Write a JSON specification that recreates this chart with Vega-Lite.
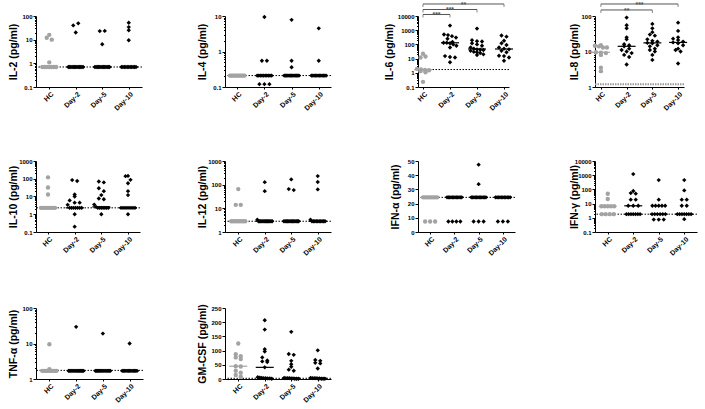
{
"$schema": "https://vega.github.io/schema/vega-lite/v6.json",
"background": "white",
"padding": {"left": 7, "top": 0, "right": 1, "bottom": 2},
"columns": 4,
"align": "each",
"spacing": {"row": 46, "column": 52},
"config": {
  "view": {"stroke": null},
  "font": "Liberation Sans",
  "axis": {"grid": false, "domainColor": "#000000", "tickColor": "#000000", "labelColor": "#000000", "titleColor": "#000000", "labelFontWeight": "bold", "titleFontWeight": "bold", "domainWidth": 1, "tickWidth": 1, "labelFlush": false, "labelOverlap": false},
  "axisY": {"labelFontSize": 6, "titleFontSize": 10.5, "titlePadding": 2, "labelPadding": 1, "tickSize": 3},
  "axisX": {"labelFontSize": 7, "labelAngle": -45, "labelAlign": "right", "labelBaseline": "top", "tickSize": 2, "labelPadding": 1},
  "tick": {"thickness": 1.2},
  "point": {"filled": true, "opacity": 1, "strokeWidth": 0}
},
"concat": [
{
 "width": 106, "height": 71,
 "data": {"values": [
  {"g":"HC","v":12},{"g":"HC","v":10},{"g":"HC","v":16},{"g":"HC","v":1.1},{"g":"HC","v":0.7},{"g":"HC","v":0.7},{"g":"HC","v":0.7},{"g":"HC","v":0.7},{"g":"HC","v":0.7},{"g":"HC","v":0.7},{"g":"HC","v":0.7},
  {"g":"Day-2","v":40},{"g":"Day-2","v":49},{"g":"Day-2","v":20},{"g":"Day-2","v":0.7},{"g":"Day-2","v":0.7},{"g":"Day-2","v":0.7},{"g":"Day-2","v":0.7},{"g":"Day-2","v":0.7},{"g":"Day-2","v":0.7},{"g":"Day-2","v":0.7},{"g":"Day-2","v":0.7},{"g":"Day-2","v":0.7},{"g":"Day-2","v":0.7},{"g":"Day-2","v":0.7},{"g":"Day-2","v":0.7},{"g":"Day-2","v":0.7},
  {"g":"Day-5","v":23},{"g":"Day-5","v":23.5},{"g":"Day-5","v":6.4},{"g":"Day-5","v":0.7},{"g":"Day-5","v":0.7},{"g":"Day-5","v":0.7},{"g":"Day-5","v":0.7},{"g":"Day-5","v":0.7},{"g":"Day-5","v":0.7},{"g":"Day-5","v":0.7},{"g":"Day-5","v":0.7},{"g":"Day-5","v":0.7},{"g":"Day-5","v":0.7},{"g":"Day-5","v":0.7},{"g":"Day-5","v":0.7},{"g":"Day-5","v":0.7},
  {"g":"Day-10","v":52},{"g":"Day-10","v":34},{"g":"Day-10","v":25},{"g":"Day-10","v":9.4},{"g":"Day-10","v":0.7},{"g":"Day-10","v":0.7},{"g":"Day-10","v":0.7},{"g":"Day-10","v":0.7},{"g":"Day-10","v":0.7},{"g":"Day-10","v":0.7},{"g":"Day-10","v":0.7},{"g":"Day-10","v":0.7},{"g":"Day-10","v":0.7},{"g":"Day-10","v":0.7},{"g":"Day-10","v":0.7}
 ]},
 "transform": [
  {"calculate": "round(log(datum.v)/LN10*6)", "as": "bk"},
  {"window": [{"op": "row_number", "as": "rn"}, {"op": "count", "as": "cnt"}], "groupby": ["g", "bk"], "frame": [null, null]},
  {"calculate": "(datum.rn-(datum.cnt+1)/2)*min(5,16/datum.cnt)", "as": "off"}
 ],
 "encoding": {"y": {"field": "v", "type": "quantitative", "title": "IL-2 (pg/ml)", "scale": {"type": "log", "domain": [0.1, 100]},
   "axis": {"minExtent": 16, "maxExtent": 16, "values": [0.1,0.2,0.3,0.4,0.5,0.6,0.7,0.8,0.9,1,2,3,4,5,6,7,8,9,10,20,30,40,50,60,70,80,90,100],
     "labelExpr": "abs(log(datum.value)/LN10-round(log(datum.value)/LN10))<1e-6 ? format(datum.value,'~g') : ''",
     "tickSize": {"condition": {"test": "abs(log(datum.value)/LN10-round(log(datum.value)/LN10))<1e-6", "value": 3}, "value": 1.5}}}},
 "layer": [
  {"data": {"values": [{"v": 0.7}]}, "mark": {"type": "rule", "strokeDash": [1.5, 1.5], "color": "#000000", "strokeWidth": 1}, "encoding": {}},
  {"mark": {"type": "point"},
   "encoding": {
    "x": {"field": "g", "type": "nominal", "title": null, "scale": {"type": "point", "domain": ["HC","m1","Day-2","m2","Day-5","m3","Day-10"], "padding": 1}, "axis": {"values": ["HC","Day-2","Day-5","Day-10"]}},
    "xOffset": {"field": "off", "type": "quantitative", "scale": {"domain": [-10, 10], "range": [-10, 10]}},
    "color": {"field": "g", "type": "nominal", "scale": {"domain": ["HC","Day-2","Day-5","Day-10"], "range": ["#a3a3a3","#000000","#000000","#000000"]}, "legend": null},
    "shape": {"field": "g", "type": "nominal", "scale": {"domain": ["HC","Day-2","Day-5","Day-10"], "range": ["circle","diamond","diamond","diamond"]}, "legend": null},
    "size": {"value": 19}}},
  {"mark": {"type": "tick", "size": 18},
   "encoding": {
    "x": {"field": "g", "type": "nominal", "title": null},
    "y": {"aggregate": "median", "field": "v", "type": "quantitative", "title": "IL-2 (pg/ml)"},
    "color": {"field": "g", "type": "nominal", "legend": null}}}
 ]
},
{
 "width": 106, "height": 71,
 "data": {"values": [
  {"g":"HC","v":0.21},{"g":"HC","v":0.21},{"g":"HC","v":0.21},{"g":"HC","v":0.21},{"g":"HC","v":0.21},{"g":"HC","v":0.21},{"g":"HC","v":0.21},{"g":"HC","v":0.21},{"g":"HC","v":0.21},{"g":"HC","v":0.21},{"g":"HC","v":0.21},
  {"g":"Day-2","v":9.4},{"g":"Day-2","v":0.55},{"g":"Day-2","v":0.55},{"g":"Day-2","v":0.12},{"g":"Day-2","v":0.12},{"g":"Day-2","v":0.12},{"g":"Day-2","v":0.21},{"g":"Day-2","v":0.21},{"g":"Day-2","v":0.21},{"g":"Day-2","v":0.21},{"g":"Day-2","v":0.21},{"g":"Day-2","v":0.21},{"g":"Day-2","v":0.21},{"g":"Day-2","v":0.21},{"g":"Day-2","v":0.21},{"g":"Day-2","v":0.21},
  {"g":"Day-5","v":7.8},{"g":"Day-5","v":0.55},{"g":"Day-5","v":0.36},{"g":"Day-5","v":0.21},{"g":"Day-5","v":0.21},{"g":"Day-5","v":0.21},{"g":"Day-5","v":0.21},{"g":"Day-5","v":0.21},{"g":"Day-5","v":0.21},{"g":"Day-5","v":0.21},{"g":"Day-5","v":0.21},{"g":"Day-5","v":0.21},{"g":"Day-5","v":0.21},{"g":"Day-5","v":0.21},{"g":"Day-5","v":0.21},{"g":"Day-5","v":0.21},
  {"g":"Day-10","v":4.5},{"g":"Day-10","v":0.55},{"g":"Day-10","v":0.21},{"g":"Day-10","v":0.21},{"g":"Day-10","v":0.21},{"g":"Day-10","v":0.21},{"g":"Day-10","v":0.21},{"g":"Day-10","v":0.21},{"g":"Day-10","v":0.21},{"g":"Day-10","v":0.21},{"g":"Day-10","v":0.21},{"g":"Day-10","v":0.21},{"g":"Day-10","v":0.21},{"g":"Day-10","v":0.21}
 ]},
 "transform": [
  {"calculate": "round(log(datum.v)/LN10*9)", "as": "bk"},
  {"window": [{"op": "row_number", "as": "rn"}, {"op": "count", "as": "cnt"}], "groupby": ["g", "bk"], "frame": [null, null]},
  {"calculate": "(datum.rn-(datum.cnt+1)/2)*min(5,16/datum.cnt)", "as": "off"}
 ],
 "encoding": {"y": {"field": "v", "type": "quantitative", "title": "IL-4 (pg/ml)", "scale": {"type": "log", "domain": [0.1, 10]},
   "axis": {"minExtent": 16, "maxExtent": 16, "values": [0.1,0.2,0.3,0.4,0.5,0.6,0.7,0.8,0.9,1,2,3,4,5,6,7,8,9,10],
     "labelExpr": "abs(log(datum.value)/LN10-round(log(datum.value)/LN10))<1e-6 ? format(datum.value,'~g') : ''",
     "tickSize": {"condition": {"test": "abs(log(datum.value)/LN10-round(log(datum.value)/LN10))<1e-6", "value": 3}, "value": 1.5}}}},
 "layer": [
  {"data": {"values": [{"v": 0.21}]}, "mark": {"type": "rule", "strokeDash": [1.5, 1.5], "color": "#000000", "strokeWidth": 1}, "encoding": {}},
  {"mark": {"type": "point"},
   "encoding": {
    "x": {"field": "g", "type": "nominal", "title": null, "scale": {"type": "point", "domain": ["HC","m1","Day-2","m2","Day-5","m3","Day-10"], "padding": 0.9}, "axis": {"values": ["HC","Day-2","Day-5","Day-10"]}},
    "xOffset": {"field": "off", "type": "quantitative", "scale": {"domain": [-10, 10], "range": [-10, 10]}},
    "color": {"field": "g", "type": "nominal", "scale": {"domain": ["HC","Day-2","Day-5","Day-10"], "range": ["#a3a3a3","#000000","#000000","#000000"]}, "legend": null},
    "shape": {"field": "g", "type": "nominal", "scale": {"domain": ["HC","Day-2","Day-5","Day-10"], "range": ["circle","diamond","diamond","diamond"]}, "legend": null},
    "size": {"value": 19}}},
  {"mark": {"type": "tick", "size": 18},
   "encoding": {
    "x": {"field": "g", "type": "nominal", "title": null},
    "y": {"aggregate": "median", "field": "v", "type": "quantitative", "title": "IL-4 (pg/ml)"},
    "color": {"field": "g", "type": "nominal", "legend": null}}}
 ]
},
{
 "width": 91, "height": 71,
 "data": {"values": [
  {"g":"HC","v":22},{"g":"HC","v":12},{"g":"HC","v":14},{"g":"HC","v":1.9},{"g":"HC","v":1.7},{"g":"HC","v":1.6},{"g":"HC","v":1.5},{"g":"HC","v":1.3},{"g":"HC","v":1.1},{"g":"HC","v":0.23},
  {"g":"Day-2","v":2100},{"g":"Day-2","v":500},{"g":"Day-2","v":450},{"g":"Day-2","v":380},{"g":"Day-2","v":300},{"g":"Day-2","v":250},{"g":"Day-2","v":150},{"g":"Day-2","v":130},{"g":"Day-2","v":130},{"g":"Day-2","v":120},{"g":"Day-2","v":100},{"g":"Day-2","v":80},{"g":"Day-2","v":60},{"g":"Day-2","v":15},{"g":"Day-2","v":13},{"g":"Day-2","v":12},{"g":"Day-2","v":5.5},
  {"g":"Day-5","v":1300},{"g":"Day-5","v":200},{"g":"Day-5","v":170},{"g":"Day-5","v":160},{"g":"Day-5","v":120},{"g":"Day-5","v":100},{"g":"Day-5","v":80},{"g":"Day-5","v":60},{"g":"Day-5","v":50},{"g":"Day-5","v":45},{"g":"Day-5","v":42},{"g":"Day-5","v":40},{"g":"Day-5","v":35},{"g":"Day-5","v":30},{"g":"Day-5","v":28},{"g":"Day-5","v":25},{"g":"Day-5","v":20},{"g":"Day-5","v":18},
  {"g":"Day-10","v":420},{"g":"Day-10","v":350},{"g":"Day-10","v":180},{"g":"Day-10","v":120},{"g":"Day-10","v":90},{"g":"Day-10","v":60},{"g":"Day-10","v":50},{"g":"Day-10","v":45},{"g":"Day-10","v":35},{"g":"Day-10","v":28},{"g":"Day-10","v":16},{"g":"Day-10","v":15},{"g":"Day-10","v":12},{"g":"Day-10","v":7}
 ]},
 "transform": [
  {"calculate": "round(log(datum.v)/LN10*3.5)", "as": "bk"},
  {"window": [{"op": "row_number", "as": "rn"}, {"op": "count", "as": "cnt"}], "groupby": ["g", "bk"], "frame": [null, null]},
  {"calculate": "(datum.rn-(datum.cnt+1)/2)*min(5,16/datum.cnt)", "as": "off"}
 ],
 "encoding": {"y": {"field": "v", "type": "quantitative", "title": "IL-6 (pg/ml)", "scale": {"type": "log", "domain": [0.1, 10000]},
   "axis": {"minExtent": 22, "maxExtent": 22, "values": [0.1,0.2,0.3,0.4,0.5,0.6,0.7,0.8,0.9,1,2,3,4,5,6,7,8,9,10,20,30,40,50,60,70,80,90,100,200,300,400,500,600,700,800,900,1000,2000,3000,4000,5000,6000,7000,8000,9000,10000],
     "labelExpr": "abs(log(datum.value)/LN10-round(log(datum.value)/LN10))<1e-6 ? format(datum.value,'~g') : ''",
     "tickSize": {"condition": {"test": "abs(log(datum.value)/LN10-round(log(datum.value)/LN10))<1e-6", "value": 3}, "value": 1.5}}}},
 "layer": [
  {"data": {"values": [{"v": 1.7}]}, "mark": {"type": "rule", "strokeDash": [1.5, 1.5], "color": "#000000", "strokeWidth": 1}, "encoding": {}},
  {"mark": {"type": "point"},
   "encoding": {
    "x": {"field": "g", "type": "nominal", "title": null, "scale": {"type": "point", "domain": ["HC","m1","Day-2","m2","Day-5","m3","Day-10"], "padding": 0.37}, "axis": {"values": ["HC","Day-2","Day-5","Day-10"]}},
    "xOffset": {"field": "off", "type": "quantitative", "scale": {"domain": [-10, 10], "range": [-10, 10]}},
    "color": {"field": "g", "type": "nominal", "scale": {"domain": ["HC","Day-2","Day-5","Day-10"], "range": ["#a3a3a3","#000000","#000000","#000000"]}, "legend": null},
    "shape": {"field": "g", "type": "nominal", "scale": {"domain": ["HC","Day-2","Day-5","Day-10"], "range": ["circle","diamond","diamond","diamond"]}, "legend": null},
    "size": {"value": 19}}},
  {"mark": {"type": "tick", "size": 18},
   "encoding": {
    "x": {"field": "g", "type": "nominal", "title": null},
    "y": {"aggregate": "median", "field": "v", "type": "quantitative", "title": "IL-6 (pg/ml)"},
    "color": {"field": "g", "type": "nominal", "legend": null}}},
  {"data": {"values": [{"from":"HC","to":"Day-2","mid":"m1","v":12800,"t":"***"},{"from":"HC","to":"Day-5","mid":"Day-2","v":28700,"t":"***"},{"from":"HC","to":"Day-10","mid":"m2","v":70000,"t":"**"}]},
   "mark": {"type": "rule", "color": "#555555", "strokeWidth": 1, "clip": false},
   "encoding": {"x": {"field": "from", "type": "nominal", "title": null}, "x2": {"field": "to"}}},
  {"data": {"values": [{"from":"HC","to":"Day-2","mid":"m1","v":12800,"t":"***"},{"from":"HC","to":"Day-5","mid":"Day-2","v":28700,"t":"***"},{"from":"HC","to":"Day-10","mid":"m2","v":70000,"t":"**"}]},
   "mark": {"type": "tick", "orient": "vertical", "size": 3, "thickness": 1, "color": "#555555", "yOffset": 1.5, "clip": false},
   "encoding": {"x": {"field": "from", "type": "nominal", "title": null}}},
  {"data": {"values": [{"from":"HC","to":"Day-2","mid":"m1","v":12800,"t":"***"},{"from":"HC","to":"Day-5","mid":"Day-2","v":28700,"t":"***"},{"from":"HC","to":"Day-10","mid":"m2","v":70000,"t":"**"}]},
   "mark": {"type": "tick", "orient": "vertical", "size": 3, "thickness": 1, "color": "#555555", "yOffset": 1.5, "clip": false},
   "encoding": {"x": {"field": "to", "type": "nominal", "title": null}}},
  {"data": {"values": [{"from":"HC","to":"Day-2","mid":"m1","v":12800,"t":"***"},{"from":"HC","to":"Day-5","mid":"Day-2","v":28700,"t":"***"},{"from":"HC","to":"Day-10","mid":"m2","v":70000,"t":"**"}]},
   "mark": {"type": "text", "fontSize": 7, "fontWeight": "bold", "color": "#555555", "baseline": "alphabetic", "dy": 3, "clip": false},
   "encoding": {"x": {"field": "mid", "type": "nominal", "title": null}, "text": {"field": "t"}}}
 ]
},
{
 "width": 89, "height": 71,
 "data": {"values": [
  {"g":"HC","v":15},{"g":"HC","v":14.5},{"g":"HC","v":14},{"g":"HC","v":13},{"g":"HC","v":13},{"g":"HC","v":9.5},{"g":"HC","v":9.3},{"g":"HC","v":9},{"g":"HC","v":8},{"g":"HC","v":3.5},{"g":"HC","v":2.8},
  {"g":"Day-2","v":90},{"g":"Day-2","v":55},{"g":"Day-2","v":45},{"g":"Day-2","v":25},{"g":"Day-2","v":22},{"g":"Day-2","v":16},{"g":"Day-2","v":15},{"g":"Day-2","v":14},{"g":"Day-2","v":12},{"g":"Day-2","v":11},{"g":"Day-2","v":10},{"g":"Day-2","v":9},{"g":"Day-2","v":8},{"g":"Day-2","v":7},{"g":"Day-2","v":4.3},
  {"g":"Day-5","v":60},{"g":"Day-5","v":45},{"g":"Day-5","v":35},{"g":"Day-5","v":30},{"g":"Day-5","v":28},{"g":"Day-5","v":22},{"g":"Day-5","v":20},{"g":"Day-5","v":19},{"g":"Day-5","v":17.5},{"g":"Day-5","v":17},{"g":"Day-5","v":15},{"g":"Day-5","v":14},{"g":"Day-5","v":12},{"g":"Day-5","v":11},{"g":"Day-5","v":10},{"g":"Day-5","v":8},{"g":"Day-5","v":5.8},
  {"g":"Day-10","v":65},{"g":"Day-10","v":38},{"g":"Day-10","v":25},{"g":"Day-10","v":23},{"g":"Day-10","v":21},{"g":"Day-10","v":19},{"g":"Day-10","v":18},{"g":"Day-10","v":17},{"g":"Day-10","v":15},{"g":"Day-10","v":12},{"g":"Day-10","v":11},{"g":"Day-10","v":10},{"g":"Day-10","v":4.6}
 ]},
 "transform": [
  {"calculate": "round(log(datum.v)/LN10*9)", "as": "bk"},
  {"window": [{"op": "row_number", "as": "rn"}, {"op": "count", "as": "cnt"}], "groupby": ["g", "bk"], "frame": [null, null]},
  {"calculate": "(datum.rn-(datum.cnt+1)/2)*min(5,16/datum.cnt)", "as": "off"}
 ],
 "encoding": {"y": {"field": "v", "type": "quantitative", "title": "IL-8 (pg/ml)", "scale": {"type": "log", "domain": [1, 100]},
   "axis": {"minExtent": 14, "maxExtent": 14, "values": [1,2,3,4,5,6,7,8,9,10,20,30,40,50,60,70,80,90,100],
     "labelExpr": "abs(log(datum.value)/LN10-round(log(datum.value)/LN10))<1e-6 ? format(datum.value,'~g') : ''",
     "tickSize": {"condition": {"test": "abs(log(datum.value)/LN10-round(log(datum.value)/LN10))<1e-6", "value": 3}, "value": 1.5}}}},
 "layer": [
  {"data": {"values": [{"v": 1.2}]}, "mark": {"type": "rule", "strokeDash": [1.5, 1], "color": "#9a9a9a", "strokeWidth": 2}, "encoding": {}},
  {"mark": {"type": "point"},
   "encoding": {
    "x": {"field": "g", "type": "nominal", "title": null, "scale": {"type": "point", "domain": ["HC","m1","Day-2","m2","Day-5","m3","Day-10"], "padding": 0.46}, "axis": {"values": ["HC","Day-2","Day-5","Day-10"]}},
    "xOffset": {"field": "off", "type": "quantitative", "scale": {"domain": [-10, 10], "range": [-10, 10]}},
    "color": {"field": "g", "type": "nominal", "scale": {"domain": ["HC","Day-2","Day-5","Day-10"], "range": ["#a3a3a3","#000000","#000000","#000000"]}, "legend": null},
    "shape": {"field": "g", "type": "nominal", "scale": {"domain": ["HC","Day-2","Day-5","Day-10"], "range": ["circle","diamond","diamond","diamond"]}, "legend": null},
    "size": {"value": 19}}},
  {"mark": {"type": "tick", "size": 18},
   "encoding": {
    "x": {"field": "g", "type": "nominal", "title": null},
    "y": {"aggregate": "median", "field": "v", "type": "quantitative", "title": "IL-8 (pg/ml)"},
    "color": {"field": "g", "type": "nominal", "legend": null}}},
  {"data": {"values": [{"from":"HC","to":"Day-5","mid":"Day-2","v":148,"t":"**"},{"from":"HC","to":"Day-10","mid":"m2","v":218,"t":"***"}]},
   "mark": {"type": "rule", "color": "#555555", "strokeWidth": 1, "clip": false},
   "encoding": {"x": {"field": "from", "type": "nominal", "title": null}, "x2": {"field": "to"}}},
  {"data": {"values": [{"from":"HC","to":"Day-5","mid":"Day-2","v":148,"t":"**"},{"from":"HC","to":"Day-10","mid":"m2","v":218,"t":"***"}]},
   "mark": {"type": "tick", "orient": "vertical", "size": 3, "thickness": 1, "color": "#555555", "yOffset": 1.5, "clip": false},
   "encoding": {"x": {"field": "from", "type": "nominal", "title": null}}},
  {"data": {"values": [{"from":"HC","to":"Day-5","mid":"Day-2","v":148,"t":"**"},{"from":"HC","to":"Day-10","mid":"m2","v":218,"t":"***"}]},
   "mark": {"type": "tick", "orient": "vertical", "size": 3, "thickness": 1, "color": "#555555", "yOffset": 1.5, "clip": false},
   "encoding": {"x": {"field": "to", "type": "nominal", "title": null}}},
  {"data": {"values": [{"from":"HC","to":"Day-5","mid":"Day-2","v":148,"t":"**"},{"from":"HC","to":"Day-10","mid":"m2","v":218,"t":"***"}]},
   "mark": {"type": "text", "fontSize": 7, "fontWeight": "bold", "color": "#555555", "baseline": "alphabetic", "dy": 3, "clip": false},
   "encoding": {"x": {"field": "mid", "type": "nominal", "title": null}, "text": {"field": "t"}}}
 ]
},
{
 "width": 104, "height": 71,
 "data": {"values": [
  {"g":"HC","v":120},{"g":"HC","v":32},{"g":"HC","v":13},{"g":"HC","v":2.3},{"g":"HC","v":2.3},{"g":"HC","v":2.3},{"g":"HC","v":2.3},{"g":"HC","v":2.3},{"g":"HC","v":2.3},{"g":"HC","v":2.3},{"g":"HC","v":2.3},
  {"g":"Day-2","v":84},{"g":"Day-2","v":75},{"g":"Day-2","v":13},{"g":"Day-2","v":10},{"g":"Day-2","v":6},{"g":"Day-2","v":4.5},{"g":"Day-2","v":4.5},{"g":"Day-2","v":3.4},{"g":"Day-2","v":2.3},{"g":"Day-2","v":2.3},{"g":"Day-2","v":2.3},{"g":"Day-2","v":2.3},{"g":"Day-2","v":2.3},{"g":"Day-2","v":2.3},{"g":"Day-2","v":2.3},{"g":"Day-2","v":1},{"g":"Day-2","v":0.2},
  {"g":"Day-5","v":70},{"g":"Day-5","v":62},{"g":"Day-5","v":29},{"g":"Day-5","v":20},{"g":"Day-5","v":12},{"g":"Day-5","v":7.7},{"g":"Day-5","v":7},{"g":"Day-5","v":3.5},{"g":"Day-5","v":2.6},{"g":"Day-5","v":2.3},{"g":"Day-5","v":2.3},{"g":"Day-5","v":2.3},{"g":"Day-5","v":2.3},{"g":"Day-5","v":2.3},{"g":"Day-5","v":2.3},{"g":"Day-5","v":2.3},{"g":"Day-5","v":1},
  {"g":"Day-10","v":145},{"g":"Day-10","v":140},{"g":"Day-10","v":87},{"g":"Day-10","v":56},{"g":"Day-10","v":20},{"g":"Day-10","v":12},{"g":"Day-10","v":2.3},{"g":"Day-10","v":2.3},{"g":"Day-10","v":2.3},{"g":"Day-10","v":2.3},{"g":"Day-10","v":2.3},{"g":"Day-10","v":2.3},{"g":"Day-10","v":2.3},{"g":"Day-10","v":2.3},{"g":"Day-10","v":1}
 ]},
 "transform": [
  {"calculate": "round(log(datum.v)/LN10*4.4)", "as": "bk"},
  {"window": [{"op": "row_number", "as": "rn"}, {"op": "count", "as": "cnt"}], "groupby": ["g", "bk"], "frame": [null, null]},
  {"calculate": "(datum.rn-(datum.cnt+1)/2)*min(5,16/datum.cnt)", "as": "off"}
 ],
 "encoding": {"y": {"field": "v", "type": "quantitative", "title": "IL-10 (pg/ml)", "scale": {"type": "log", "domain": [0.1, 1000]},
   "axis": {"minExtent": 16, "maxExtent": 16, "values": [0.1,0.2,0.3,0.4,0.5,0.6,0.7,0.8,0.9,1,2,3,4,5,6,7,8,9,10,20,30,40,50,60,70,80,90,100,200,300,400,500,600,700,800,900,1000],
     "labelExpr": "abs(log(datum.value)/LN10-round(log(datum.value)/LN10))<1e-6 ? format(datum.value,'~g') : ''",
     "tickSize": {"condition": {"test": "abs(log(datum.value)/LN10-round(log(datum.value)/LN10))<1e-6", "value": 3}, "value": 1.5}}}},
 "layer": [
  {"data": {"values": [{"v": 2.3}]}, "mark": {"type": "rule", "strokeDash": [1.5, 1.5], "color": "#000000", "strokeWidth": 1}, "encoding": {}},
  {"mark": {"type": "point"},
   "encoding": {
    "x": {"field": "g", "type": "nominal", "title": null, "scale": {"type": "point", "domain": ["HC","m1","Day-2","m2","Day-5","m3","Day-10"], "padding": 0.9}, "axis": {"values": ["HC","Day-2","Day-5","Day-10"]}},
    "xOffset": {"field": "off", "type": "quantitative", "scale": {"domain": [-10, 10], "range": [-10, 10]}},
    "color": {"field": "g", "type": "nominal", "scale": {"domain": ["HC","Day-2","Day-5","Day-10"], "range": ["#a3a3a3","#000000","#000000","#000000"]}, "legend": null},
    "shape": {"field": "g", "type": "nominal", "scale": {"domain": ["HC","Day-2","Day-5","Day-10"], "range": ["circle","diamond","diamond","diamond"]}, "legend": null},
    "size": {"value": 19}}},
  {"mark": {"type": "tick", "size": 18},
   "encoding": {
    "x": {"field": "g", "type": "nominal", "title": null},
    "y": {"aggregate": "median", "field": "v", "type": "quantitative", "title": "IL-10 (pg/ml)"},
    "color": {"field": "g", "type": "nominal", "legend": null}}}
 ]
},
{
 "width": 106, "height": 71,
 "data": {"values": [
  {"g":"HC","v":65},{"g":"HC","v":14},{"g":"HC","v":14},{"g":"HC","v":2.85},{"g":"HC","v":2.85},{"g":"HC","v":2.85},{"g":"HC","v":2.85},{"g":"HC","v":2.85},{"g":"HC","v":2.85},{"g":"HC","v":2.85},{"g":"HC","v":2.85},
  {"g":"Day-2","v":128},{"g":"Day-2","v":53},{"g":"Day-2","v":3.3},{"g":"Day-2","v":2.85},{"g":"Day-2","v":2.85},{"g":"Day-2","v":2.85},{"g":"Day-2","v":2.85},{"g":"Day-2","v":2.85},{"g":"Day-2","v":2.85},{"g":"Day-2","v":2.85},{"g":"Day-2","v":2.85},{"g":"Day-2","v":2.85},{"g":"Day-2","v":2.85},{"g":"Day-2","v":2.85},{"g":"Day-2","v":2.85},{"g":"Day-2","v":2.85},
  {"g":"Day-5","v":167},{"g":"Day-5","v":65},{"g":"Day-5","v":59},{"g":"Day-5","v":2.85},{"g":"Day-5","v":2.85},{"g":"Day-5","v":2.85},{"g":"Day-5","v":2.85},{"g":"Day-5","v":2.85},{"g":"Day-5","v":2.85},{"g":"Day-5","v":2.85},{"g":"Day-5","v":2.85},{"g":"Day-5","v":2.85},{"g":"Day-5","v":2.85},{"g":"Day-5","v":2.85},{"g":"Day-5","v":2.85},{"g":"Day-5","v":2.85},
  {"g":"Day-10","v":230},{"g":"Day-10","v":130},{"g":"Day-10","v":63},{"g":"Day-10","v":3.3},{"g":"Day-10","v":2.85},{"g":"Day-10","v":2.85},{"g":"Day-10","v":2.85},{"g":"Day-10","v":2.85},{"g":"Day-10","v":2.85},{"g":"Day-10","v":2.85},{"g":"Day-10","v":2.85},{"g":"Day-10","v":2.85},{"g":"Day-10","v":2.85},{"g":"Day-10","v":2.85}
 ]},
 "transform": [
  {"calculate": "round(log(datum.v)/LN10*6)", "as": "bk"},
  {"window": [{"op": "row_number", "as": "rn"}, {"op": "count", "as": "cnt"}], "groupby": ["g", "bk"], "frame": [null, null]},
  {"calculate": "(datum.rn-(datum.cnt+1)/2)*min(5,16/datum.cnt)", "as": "off"}
 ],
 "encoding": {"y": {"field": "v", "type": "quantitative", "title": "IL-12 (pg/ml)", "scale": {"type": "log", "domain": [1, 1000]},
   "axis": {"minExtent": 16, "maxExtent": 16, "values": [1,2,3,4,5,6,7,8,9,10,20,30,40,50,60,70,80,90,100,200,300,400,500,600,700,800,900,1000],
     "labelExpr": "abs(log(datum.value)/LN10-round(log(datum.value)/LN10))<1e-6 ? format(datum.value,'~g') : ''",
     "tickSize": {"condition": {"test": "abs(log(datum.value)/LN10-round(log(datum.value)/LN10))<1e-6", "value": 3}, "value": 1.5}}}},
 "layer": [
  {"data": {"values": [{"v": 2.85}]}, "mark": {"type": "rule", "strokeDash": [1.5, 1.5], "color": "#000000", "strokeWidth": 1}, "encoding": {}},
  {"mark": {"type": "point"},
   "encoding": {
    "x": {"field": "g", "type": "nominal", "title": null, "scale": {"type": "point", "domain": ["HC","m1","Day-2","m2","Day-5","m3","Day-10"], "padding": 1}, "axis": {"values": ["HC","Day-2","Day-5","Day-10"]}},
    "xOffset": {"field": "off", "type": "quantitative", "scale": {"domain": [-10, 10], "range": [-10, 10]}},
    "color": {"field": "g", "type": "nominal", "scale": {"domain": ["HC","Day-2","Day-5","Day-10"], "range": ["#a3a3a3","#000000","#000000","#000000"]}, "legend": null},
    "shape": {"field": "g", "type": "nominal", "scale": {"domain": ["HC","Day-2","Day-5","Day-10"], "range": ["circle","diamond","diamond","diamond"]}, "legend": null},
    "size": {"value": 19}}},
  {"mark": {"type": "tick", "size": 18},
   "encoding": {
    "x": {"field": "g", "type": "nominal", "title": null},
    "y": {"aggregate": "median", "field": "v", "type": "quantitative", "title": "IL-12 (pg/ml)"},
    "color": {"field": "g", "type": "nominal", "legend": null}}}
 ]
},
{
 "width": 97, "height": 71,
 "data": {"values": [
  {"g":"HC","v":24.4},{"g":"HC","v":24.4},{"g":"HC","v":24.4},{"g":"HC","v":24.4},{"g":"HC","v":24.4},{"g":"HC","v":24.4},{"g":"HC","v":24.4},{"g":"HC","v":24.4},{"g":"HC","v":7.4},{"g":"HC","v":7.4},{"g":"HC","v":7.4},
  {"g":"Day-2","v":24.4},{"g":"Day-2","v":24.4},{"g":"Day-2","v":24.4},{"g":"Day-2","v":24.4},{"g":"Day-2","v":24.4},{"g":"Day-2","v":24.4},{"g":"Day-2","v":24.4},{"g":"Day-2","v":24.4},{"g":"Day-2","v":24.4},{"g":"Day-2","v":24.4},{"g":"Day-2","v":24.4},{"g":"Day-2","v":24.4},{"g":"Day-2","v":7.4},{"g":"Day-2","v":7.4},{"g":"Day-2","v":7.4},{"g":"Day-2","v":7.4},
  {"g":"Day-5","v":47.4},{"g":"Day-5","v":33.7},{"g":"Day-5","v":24.4},{"g":"Day-5","v":24.4},{"g":"Day-5","v":24.4},{"g":"Day-5","v":24.4},{"g":"Day-5","v":24.4},{"g":"Day-5","v":24.4},{"g":"Day-5","v":24.4},{"g":"Day-5","v":24.4},{"g":"Day-5","v":24.4},{"g":"Day-5","v":24.4},{"g":"Day-5","v":24.4},{"g":"Day-5","v":24.4},{"g":"Day-5","v":7.4},{"g":"Day-5","v":7.4},{"g":"Day-5","v":7.4},
  {"g":"Day-10","v":24.4},{"g":"Day-10","v":24.4},{"g":"Day-10","v":24.4},{"g":"Day-10","v":24.4},{"g":"Day-10","v":24.4},{"g":"Day-10","v":24.4},{"g":"Day-10","v":24.4},{"g":"Day-10","v":24.4},{"g":"Day-10","v":24.4},{"g":"Day-10","v":24.4},{"g":"Day-10","v":24.4},{"g":"Day-10","v":7.4},{"g":"Day-10","v":7.4},{"g":"Day-10","v":7.4}
 ]},
 "transform": [
  {"calculate": "round(datum.v/3)", "as": "bk"},
  {"window": [{"op": "row_number", "as": "rn"}, {"op": "count", "as": "cnt"}], "groupby": ["g", "bk"], "frame": [null, null]},
  {"calculate": "(datum.rn-(datum.cnt+1)/2)*min(5,16/datum.cnt)", "as": "off"}
 ],
 "encoding": {"y": {"field": "v", "type": "quantitative", "title": "IFN-α (pg/ml)", "scale": {"domain": [0, 50], "nice": false},
   "axis": {"minExtent": 16, "maxExtent": 16, "values": [0, 10, 20, 30, 40, 50]}}},
 "layer": [
  {"data": {"values": [{"v": 24.4}]}, "mark": {"type": "rule", "strokeDash": [1.5, 1.5], "color": "#000000", "strokeWidth": 1}, "encoding": {}},
  {"mark": {"type": "point"},
   "encoding": {
    "x": {"field": "g", "type": "nominal", "title": null, "scale": {"type": "point", "domain": ["HC","m1","Day-2","m2","Day-5","m3","Day-10"], "padding": 1}, "axis": {"values": ["HC","Day-2","Day-5","Day-10"]}},
    "xOffset": {"field": "off", "type": "quantitative", "scale": {"domain": [-10, 10], "range": [-10, 10]}},
    "color": {"field": "g", "type": "nominal", "scale": {"domain": ["HC","Day-2","Day-5","Day-10"], "range": ["#a3a3a3","#000000","#000000","#000000"]}, "legend": null},
    "shape": {"field": "g", "type": "nominal", "scale": {"domain": ["HC","Day-2","Day-5","Day-10"], "range": ["circle","diamond","diamond","diamond"]}, "legend": null},
    "size": {"value": 19}}},
  {"mark": {"type": "tick", "size": 18},
   "encoding": {
    "x": {"field": "g", "type": "nominal", "title": null},
    "y": {"aggregate": "median", "field": "v", "type": "quantitative", "title": "IFN-α (pg/ml)"},
    "color": {"field": "g", "type": "nominal", "legend": null}}}
 ]
},
{
 "width": 102, "height": 71,
 "data": {"values": [
  {"g":"HC","v":49},{"g":"HC","v":21},{"g":"HC","v":6.5},{"g":"HC","v":6.5},{"g":"HC","v":6.5},{"g":"HC","v":6.5},{"g":"HC","v":6.5},{"g":"HC","v":1.8},{"g":"HC","v":1.8},{"g":"HC","v":1.8},{"g":"HC","v":1.8},
  {"g":"Day-2","v":1200},{"g":"Day-2","v":77},{"g":"Day-2","v":55},{"g":"Day-2","v":50},{"g":"Day-2","v":19},{"g":"Day-2","v":19},{"g":"Day-2","v":7},{"g":"Day-2","v":7},{"g":"Day-2","v":7},{"g":"Day-2","v":1.8},{"g":"Day-2","v":1.8},{"g":"Day-2","v":1.8},{"g":"Day-2","v":1.8},{"g":"Day-2","v":1.8},{"g":"Day-2","v":1.8},{"g":"Day-2","v":1.8},
  {"g":"Day-5","v":450},{"g":"Day-5","v":19},{"g":"Day-5","v":7},{"g":"Day-5","v":7},{"g":"Day-5","v":7},{"g":"Day-5","v":7},{"g":"Day-5","v":7},{"g":"Day-5","v":1.8},{"g":"Day-5","v":1.8},{"g":"Day-5","v":1.8},{"g":"Day-5","v":1.8},{"g":"Day-5","v":1.8},{"g":"Day-5","v":1.8},{"g":"Day-5","v":0.75},{"g":"Day-5","v":0.75},{"g":"Day-5","v":0.75},
  {"g":"Day-10","v":450},{"g":"Day-10","v":85},{"g":"Day-10","v":19},{"g":"Day-10","v":19},{"g":"Day-10","v":7},{"g":"Day-10","v":7},{"g":"Day-10","v":1.8},{"g":"Day-10","v":1.8},{"g":"Day-10","v":1.8},{"g":"Day-10","v":1.8},{"g":"Day-10","v":1.8},{"g":"Day-10","v":1.8},{"g":"Day-10","v":1.8},{"g":"Day-10","v":0.8}
 ]},
 "transform": [
  {"calculate": "round(log(datum.v)/LN10*3.5)", "as": "bk"},
  {"window": [{"op": "row_number", "as": "rn"}, {"op": "count", "as": "cnt"}], "groupby": ["g", "bk"], "frame": [null, null]},
  {"calculate": "(datum.rn-(datum.cnt+1)/2)*min(5,16/datum.cnt)", "as": "off"}
 ],
 "encoding": {"y": {"field": "v", "type": "quantitative", "title": "IFN-γ (pg/ml)", "scale": {"type": "log", "domain": [0.1, 10000]},
   "axis": {"minExtent": 14, "maxExtent": 14, "values": [0.1,0.2,0.3,0.4,0.5,0.6,0.7,0.8,0.9,1,2,3,4,5,6,7,8,9,10,20,30,40,50,60,70,80,90,100,200,300,400,500,600,700,800,900,1000,2000,3000,4000,5000,6000,7000,8000,9000,10000],
     "labelExpr": "abs(log(datum.value)/LN10-round(log(datum.value)/LN10))<1e-6 ? format(datum.value,'~g') : ''",
     "tickSize": {"condition": {"test": "abs(log(datum.value)/LN10-round(log(datum.value)/LN10))<1e-6", "value": 3}, "value": 1.5}}}},
 "layer": [
  {"data": {"values": [{"v": 1.8}]}, "mark": {"type": "rule", "strokeDash": [1.5, 1.5], "color": "#000000", "strokeWidth": 1}, "encoding": {}},
  {"mark": {"type": "point"},
   "encoding": {
    "x": {"field": "g", "type": "nominal", "title": null, "scale": {"type": "point", "domain": ["HC","m1","Day-2","m2","Day-5","m3","Day-10"], "padding": 1.1}, "axis": {"values": ["HC","Day-2","Day-5","Day-10"]}},
    "xOffset": {"field": "off", "type": "quantitative", "scale": {"domain": [-10, 10], "range": [-10, 10]}},
    "color": {"field": "g", "type": "nominal", "scale": {"domain": ["HC","Day-2","Day-5","Day-10"], "range": ["#a3a3a3","#000000","#000000","#000000"]}, "legend": null},
    "shape": {"field": "g", "type": "nominal", "scale": {"domain": ["HC","Day-2","Day-5","Day-10"], "range": ["circle","diamond","diamond","diamond"]}, "legend": null},
    "size": {"value": 19}}},
  {"mark": {"type": "tick", "size": 18},
   "encoding": {
    "x": {"field": "g", "type": "nominal", "title": null},
    "y": {"aggregate": "median", "field": "v", "type": "quantitative", "title": "IFN-γ (pg/ml)"},
    "color": {"field": "g", "type": "nominal", "legend": null}}}
 ]
},
{
 "width": 107, "height": 71,
 "data": {"values": [
  {"g":"HC","v":9.5},{"g":"HC","v":1.9},{"g":"HC","v":1.7},{"g":"HC","v":1.7},{"g":"HC","v":1.7},{"g":"HC","v":1.7},{"g":"HC","v":1.7},{"g":"HC","v":1.7},{"g":"HC","v":1.7},{"g":"HC","v":1.7},{"g":"HC","v":1.7},
  {"g":"Day-2","v":29.5},{"g":"Day-2","v":1.7},{"g":"Day-2","v":1.7},{"g":"Day-2","v":1.7},{"g":"Day-2","v":1.7},{"g":"Day-2","v":1.7},{"g":"Day-2","v":1.7},{"g":"Day-2","v":1.7},{"g":"Day-2","v":1.7},{"g":"Day-2","v":1.7},{"g":"Day-2","v":1.7},{"g":"Day-2","v":1.7},{"g":"Day-2","v":1.7},{"g":"Day-2","v":1.7},{"g":"Day-2","v":1.7},{"g":"Day-2","v":1.7},
  {"g":"Day-5","v":19},{"g":"Day-5","v":1.7},{"g":"Day-5","v":1.7},{"g":"Day-5","v":1.7},{"g":"Day-5","v":1.7},{"g":"Day-5","v":1.7},{"g":"Day-5","v":1.7},{"g":"Day-5","v":1.7},{"g":"Day-5","v":1.7},{"g":"Day-5","v":1.7},{"g":"Day-5","v":1.7},{"g":"Day-5","v":1.7},{"g":"Day-5","v":1.7},{"g":"Day-5","v":1.7},{"g":"Day-5","v":1.7},{"g":"Day-5","v":1.7},
  {"g":"Day-10","v":10},{"g":"Day-10","v":1.7},{"g":"Day-10","v":1.7},{"g":"Day-10","v":1.7},{"g":"Day-10","v":1.7},{"g":"Day-10","v":1.7},{"g":"Day-10","v":1.7},{"g":"Day-10","v":1.7},{"g":"Day-10","v":1.7},{"g":"Day-10","v":1.7},{"g":"Day-10","v":1.7},{"g":"Day-10","v":1.7},{"g":"Day-10","v":1.7},{"g":"Day-10","v":1.7}
 ]},
 "transform": [
  {"calculate": "round(log(datum.v)/LN10*9)", "as": "bk"},
  {"window": [{"op": "row_number", "as": "rn"}, {"op": "count", "as": "cnt"}], "groupby": ["g", "bk"], "frame": [null, null]},
  {"calculate": "(datum.rn-(datum.cnt+1)/2)*min(5,16/datum.cnt)", "as": "off"}
 ],
 "encoding": {"y": {"field": "v", "type": "quantitative", "title": "TNF-α (pg/ml)", "scale": {"type": "log", "domain": [1, 100]},
   "axis": {"minExtent": 16, "maxExtent": 16, "values": [1,2,3,4,5,6,7,8,9,10,20,30,40,50,60,70,80,90,100],
     "labelExpr": "abs(log(datum.value)/LN10-round(log(datum.value)/LN10))<1e-6 ? format(datum.value,'~g') : ''",
     "tickSize": {"condition": {"test": "abs(log(datum.value)/LN10-round(log(datum.value)/LN10))<1e-6", "value": 3}, "value": 1.5}}}},
 "layer": [
  {"data": {"values": [{"v": 1.75}]}, "mark": {"type": "rule", "strokeDash": [1.5, 1.5], "color": "#000000", "strokeWidth": 1}, "encoding": {}},
  {"mark": {"type": "point"},
   "encoding": {
    "x": {"field": "g", "type": "nominal", "title": null, "scale": {"type": "point", "domain": ["HC","m1","Day-2","m2","Day-5","m3","Day-10"], "padding": 1}, "axis": {"values": ["HC","Day-2","Day-5","Day-10"]}},
    "xOffset": {"field": "off", "type": "quantitative", "scale": {"domain": [-10, 10], "range": [-10, 10]}},
    "color": {"field": "g", "type": "nominal", "scale": {"domain": ["HC","Day-2","Day-5","Day-10"], "range": ["#a3a3a3","#000000","#000000","#000000"]}, "legend": null},
    "shape": {"field": "g", "type": "nominal", "scale": {"domain": ["HC","Day-2","Day-5","Day-10"], "range": ["circle","diamond","diamond","diamond"]}, "legend": null},
    "size": {"value": 19}}},
  {"mark": {"type": "tick", "size": 18},
   "encoding": {
    "x": {"field": "g", "type": "nominal", "title": null},
    "y": {"aggregate": "median", "field": "v", "type": "quantitative", "title": "TNF-α (pg/ml)"},
    "color": {"field": "g", "type": "nominal", "legend": null}}}
 ]
},
{
 "width": 106, "height": 71,
 "data": {"values": [
  {"g":"HC","v":125},{"g":"HC","v":87},{"g":"HC","v":80},{"g":"HC","v":76},{"g":"HC","v":70},{"g":"HC","v":45},{"g":"HC","v":44},{"g":"HC","v":29},{"g":"HC","v":22},{"g":"HC","v":14},{"g":"HC","v":8},
  {"g":"Day-2","v":207},{"g":"Day-2","v":174},{"g":"Day-2","v":105},{"g":"Day-2","v":97},{"g":"Day-2","v":76},{"g":"Day-2","v":65},{"g":"Day-2","v":62},{"g":"Day-2","v":60},{"g":"Day-2","v":41},{"g":"Day-2","v":6},{"g":"Day-2","v":5},{"g":"Day-2","v":4},{"g":"Day-2","v":3},{"g":"Day-2","v":3},{"g":"Day-2","v":2},{"g":"Day-2","v":2},{"g":"Day-2","v":1},
  {"g":"Day-5","v":166},{"g":"Day-5","v":88},{"g":"Day-5","v":85},{"g":"Day-5","v":64},{"g":"Day-5","v":52},{"g":"Day-5","v":43},{"g":"Day-5","v":33},{"g":"Day-5","v":29},{"g":"Day-5","v":3.5},{"g":"Day-5","v":3},{"g":"Day-5","v":3},{"g":"Day-5","v":3},{"g":"Day-5","v":2},{"g":"Day-5","v":2},{"g":"Day-5","v":1},{"g":"Day-5","v":1},{"g":"Day-5","v":1},
  {"g":"Day-10","v":101},{"g":"Day-10","v":67},{"g":"Day-10","v":64},{"g":"Day-10","v":57},{"g":"Day-10","v":55},{"g":"Day-10","v":37},{"g":"Day-10","v":4},{"g":"Day-10","v":3},{"g":"Day-10","v":3},{"g":"Day-10","v":3},{"g":"Day-10","v":2},{"g":"Day-10","v":2},{"g":"Day-10","v":1},{"g":"Day-10","v":1},{"g":"Day-10","v":1}
 ]},
 "transform": [
  {"calculate": "round(datum.v/14)", "as": "bk"},
  {"window": [{"op": "row_number", "as": "rn"}, {"op": "count", "as": "cnt"}], "groupby": ["g", "bk"], "frame": [null, null]},
  {"calculate": "(datum.rn-(datum.cnt+1)/2)*min(5,16/datum.cnt)", "as": "off"}
 ],
 "encoding": {"y": {"field": "v", "type": "quantitative", "title": "GM-CSF (pg/ml)", "scale": {"domain": [0, 250], "nice": false},
   "axis": {"minExtent": 16, "maxExtent": 16, "values": [0, 50, 100, 150, 200, 250]}}},
 "layer": [
  {"data": {"values": [{"v": 2.5}]}, "mark": {"type": "rule", "strokeDash": [1.5, 1.5], "color": "#000000", "strokeWidth": 1}, "encoding": {}},
  {"mark": {"type": "point"},
   "encoding": {
    "x": {"field": "g", "type": "nominal", "title": null, "scale": {"type": "point", "domain": ["HC","m1","Day-2","m2","Day-5","m3","Day-10"], "padding": 1.1}, "axis": {"values": ["HC","Day-2","Day-5","Day-10"]}},
    "xOffset": {"field": "off", "type": "quantitative", "scale": {"domain": [-10, 10], "range": [-10, 10]}},
    "color": {"field": "g", "type": "nominal", "scale": {"domain": ["HC","Day-2","Day-5","Day-10"], "range": ["#a3a3a3","#000000","#000000","#000000"]}, "legend": null},
    "shape": {"field": "g", "type": "nominal", "scale": {"domain": ["HC","Day-2","Day-5","Day-10"], "range": ["circle","diamond","diamond","diamond"]}, "legend": null},
    "size": {"value": 19}}},
  {"mark": {"type": "tick", "size": 18},
   "encoding": {
    "x": {"field": "g", "type": "nominal", "title": null},
    "y": {"aggregate": "median", "field": "v", "type": "quantitative", "title": "GM-CSF (pg/ml)"},
    "color": {"field": "g", "type": "nominal", "legend": null}}}
 ]
}
]
}
